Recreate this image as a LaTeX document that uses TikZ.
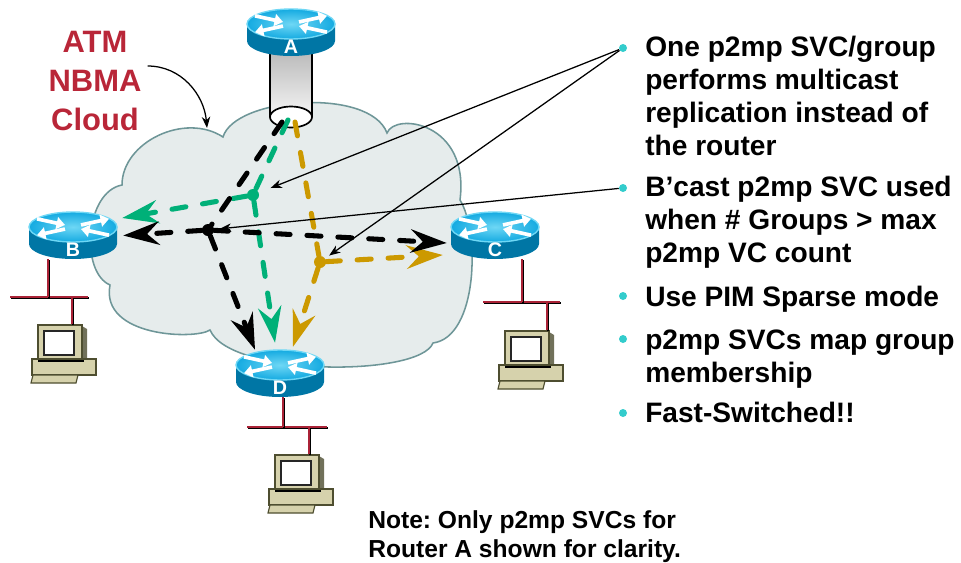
\documentclass[tikz,border=0pt]{standalone}
\usepackage{fontspec}
\setmainfont{Liberation Sans}
\frenchspacing
\usetikzlibrary{arrows.meta,positioning,calc,shapes.geometric}

\definecolor{atmred}{RGB}{185,38,56}
\definecolor{cloudfill}{RGB}{230,236,236}
\definecolor{cloudedge}{RGB}{110,150,152}
\definecolor{svcgreen}{RGB}{0,176,120}
\definecolor{svcgold}{RGB}{204,153,0}
\definecolor{bulletcyan}{RGB}{51,204,204}
\definecolor{routertop}{RGB}{20,170,225}
\definecolor{routerglow}{RGB}{110,215,245}
\definecolor{routerside}{RGB}{0,118,165}
\definecolor{lanred}{RGB}{170,35,55}
\definecolor{pcbody}{RGB}{214,210,172}
\definecolor{pcedge}{RGB}{78,78,48}

% router: #1 centre of the top face, #2 name, #3 letter
\newcommand{\router}[3]{%
  \begin{scope}[shift={#1}]
    \fill[routerside] (-44,0) -- (-44,-17)
      arc[start angle=180,end angle=360,x radius=44,y radius=15] -- (44,0) -- cycle;
    \shade[inner color=routerglow,outer color=routertop]
      (0,0) ellipse[x radius=44,y radius=15];
    \draw[routerglow,line width=1pt] (0,0) ellipse[x radius=44,y radius=15];
    \begin{scope}[yscale=0.34]
      \draw[routerarrow] (-36,24) -- (-8,6);
      \draw[routerarrow] (8,6) -- (36,24);
      \draw[routerarrow] (-8,-6) -- (-36,-24);
      \draw[routerarrow] (36,-24) -- (8,-6);
    \end{scope}
    \node[routerbox] (#2) at (0,-8.5) {};
    \node[routerletter] (#2-tag) at (0,-23) {#3};
  \end{scope}}

% workstation: #1 top left corner of the monitor, #2 name
\newcommand{\computer}[2]{%
  \begin{scope}[shift={#1}]
    \fill[pcedge!80] (44,-1) -- (49,-4) -- (49,-36) -- (44,-38) -- cycle;
    \node[pcbox] (#2) at (22,-19) {};
    \draw[black!85,fill=white,line width=1.2pt] (6,-6) rectangle (36,-30);
    \draw[pcedge,fill=pcbody,line width=0.8pt] (-6,-34) rectangle (58,-50);
    \draw[black,line width=1.5pt] (0,-36) -- (46,-36);
    \draw[pcedge,fill=pcbody,line width=0.8pt] (-5,-50) -- (40,-50) -- (38,-58) -- (-7,-58) -- cycle;
  \end{scope}}

\begin{document}
\begin{tikzpicture}[x=0.025cm,y=0.025cm,
 every node/.style={align=left},
 cloud/.style={fill=cloudfill,draw=cloudedge,line width=1.1pt},
 routerbox/.style={minimum width=2.2cm,minimum height=1.175cm,inner sep=0pt},
 routerletter/.style={text=white,font=\fontsize{14}{14}\selectfont\bfseries,inner sep=0pt},
 routerarrow/.style={white,line width=2.6pt,-{Triangle[length=6pt,width=8.5pt]}},
 pcbox/.style={draw=pcedge,fill=pcbody,line width=0.8pt,minimum width=1.1cm,minimum height=0.95cm,inner sep=0pt},
 lan/.style={draw=lanred,line width=1.6pt,
   preaction={draw=black,line width=1.6pt,transform canvas={shift={(0.7pt,-0.7pt)}}}},
 mouthring/.style={ellipse,draw,line width=1.2pt,fill=white,minimum width=1.05cm,minimum height=0.525cm,inner sep=0pt},
 branch/.style={circle,fill=#1,minimum size=0.3cm,inner sep=0pt},
 svc/.style={draw=#1,line width=3.6pt,dash pattern=on 10pt off 12pt,line cap=round},
 svcarrow/.style={svc=#1,-{Stealth[length=26pt,width=17pt,inset=9pt,line width=0pt]}},
 pointer/.style={line width=0.9pt,-{Stealth[length=8pt,width=6pt,inset=2.5pt]}},
 dot/.style={circle,fill=bulletcyan,minimum size=0.2cm,inner sep=0pt},
 item/.style={font=\fontsize{20}{23.4}\selectfont\bfseries,inner sep=0pt},
 cloudlabel/.style={align=center,text=atmred,font=\fontsize{22}{27.6}\selectfont\bfseries,inner sep=0pt},
 note/.style={font=\fontsize{17.5}{20.5}\selectfont\bfseries,inner sep=0pt}]
\useasboundingbox (0,0) rectangle (961,562);

% the ATM cloud
\path[cloud] (223,425) .. controls (235,465) and (370,475) .. (387,429)
  .. controls (395,450) and (470,440) .. (460,362)
  .. controls (480,330) and (478,225) .. (433,219)
  .. controls (420,185) and (230,185) .. (210,232)
  .. controls (195,222) and (100,225) .. (110,277)
  .. controls (80,290) and (85,370) .. (122,377)
  .. controls (122,420) and (185,450) .. (223,425) -- cycle;
\coordinate (cloudtop) at (207,434);

% access pipe of router A into the cloud
\shade[top color=gray!55,bottom color=white] (270,512) -- (270,445)
  arc[start angle=180,end angle=360,x radius=21,y radius=10.5] -- (312,512) -- cycle;
\draw[line width=1.2pt] (270,512) -- (270,445) (312,445) -- (312,512);
\node[mouthring] (mouth) at (291,445) {};

% routers
\router{(291,538)}{A}{A}
\router{(73,335)}{B}{B}
\router{(495,335)}{C}{C}
\router{(280,197)}{D}{D}

% LAN segments and hosts
\computer{(38,237)}{pcB}
\computer{(505,231)}{pcC}
\computer{(275,107)}{pcD}
\coordinate (busB-l) at (10,265);
\coordinate (busB-r) at (88,265);
\coordinate (busC-l) at (483,260);
\coordinate (busC-r) at (560,260);
\coordinate (busD-l) at (247,135);
\coordinate (busD-r) at (327,135);
\coordinate (B-drop) at ($(B.south)+(-25,0)$);
\coordinate (C-drop) at ($(C.south)+(27,0)$);
\coordinate (D-drop) at ($(D.south)+(3,0)$);
\coordinate (pcB-drop) at ($(pcB.north)+(12,0)$);
\coordinate (pcC-drop) at ($(pcC.north)+(20,0)$);
\coordinate (pcD-drop) at ($(pcD.north)+(12,0)$);
\draw[lan] (busB-l) -- (busB-r);
\draw[lan] (B-drop) -- (B-drop |- busB-l);
\draw[lan] (pcB-drop) -- (pcB-drop |- busB-l);
\draw[lan] (busC-l) -- (busC-r);
\draw[lan] (C-drop) -- (C-drop |- busC-l);
\draw[lan] (pcC-drop) -- (pcC-drop |- busC-l);
\draw[lan] (busD-l) -- (busD-r);
\draw[lan] (D-drop) -- (D-drop |- busD-l);
\draw[lan] (pcD-drop) -- (pcD-drop |- busD-l);

% p2mp SVCs out of router A
\node[branch=black] (bk) at (208,332) {};
\node[branch=svcgreen] (gn) at (253,367) {};
\node[branch=svcgold] (gd) at (320,300) {};

\draw[svc=svcgreen] ($(mouth.center)+(-3,-3)$) -- (gn);
\draw[svcarrow=svcgreen] (gn) -- ($(B.east)+(5,17.5)$);
\draw[svcarrow=svcgreen] (gn) -- ($(D.north)+(-5,7)$);
\draw[svc=svcgold] ($(mouth.center)+(4,-5)$) -- (gd);
\draw[svcarrow=svcgold] (gd) -- ($(C.west)+(-8,-19.5)$);
\draw[svcarrow=svcgold] (gd) -- ($(D.north)+(13,3)$);
\draw[svc=black] ($(mouth.center)+(-9,-5)$) -- (bk);
\draw[svcarrow=black] (bk) -- ($(B.east)+(6,0)$);
\draw[svcarrow=black] (bk) -- ($(C.west)+(-4,-7.5)$);
\draw[svcarrow=black] (bk) -- ($(D.north)+(-25,0)$);

% labels
\node[cloudlabel] (atm) at (95,481) {ATM\\NBMA\\Cloud};
\draw[pointer] ($(atm.east)+(6,15)$) to[out=0,in=95] (cloudtop);

\node[dot] (d1) at (623,514) {};
\node[dot] (d2) at (623,374) {};
\node[dot] (d3) at (623,266) {};
\node[dot] (d4) at (623,223) {};
\node[dot] (d5) at (623,149) {};
% multi-line nodes sit on the baseline of their last line
\node[item,anchor=base west] (one) at (645,406.5) {One p2mp SVC/group\\performs multicast\\replication instead of\\the router};
\node[item,anchor=base west] (bcast) at (645,299.5) {B’cast p2mp SVC used\\when \# Groups > max\\p2mp VC count};
\node[item,anchor=base west] (pim) at (645,255.5) {Use PIM Sparse mode};
\node[item,anchor=base west] (map) at (645,179.5) {p2mp SVCs map group\\membership};
\node[item,anchor=base west] (fast) at (645,139.5) {Fast-Switched!!};
\node[note,anchor=base west] (note) at (368,5) {Note: Only p2mp SVCs for\\Router A shown for clarity.};

\draw[pointer,shorten >=9pt] (d1) -- (gn);
\draw[pointer,shorten >=3.5pt] (d1) -- (gd);
\draw[pointer,shorten >=4pt] (d2) -- (bk);
\end{tikzpicture}
\end{document}
